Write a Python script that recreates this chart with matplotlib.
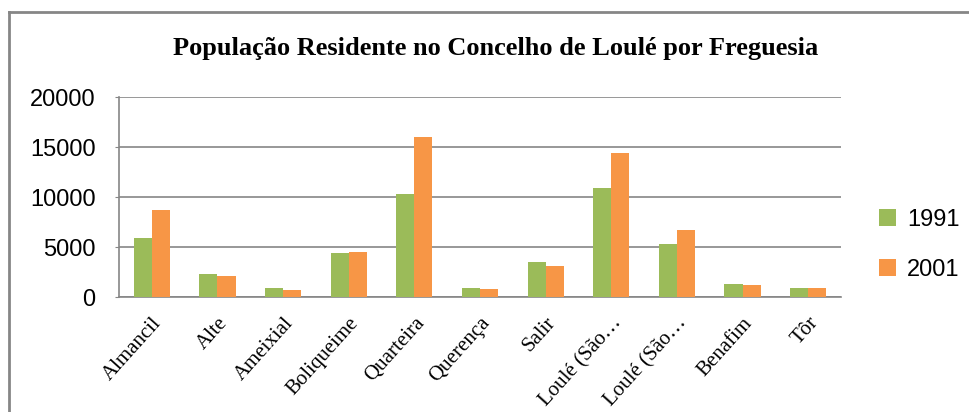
import numpy as np
import matplotlib.pyplot as plt
from matplotlib.lines import Line2D


#################### Data

freguesias = ['Almancil', 'Alte', 'Ameixial', 'Boliqueime', 'Quarteira', 'Querença',
              'Salir', 'Loulé (São…', 'Loulé (São…', 'Benafim', 'Tôr']
pop_1991 = [5930, 2330, 930, 4430, 10330, 930, 3530, 10930, 5330, 1330, 930]
pop_2001 = [8730, 2130, 730, 4530, 16030, 830, 3130, 14430, 6730, 1230, 930]
series_labels = ['1991', '2001']
y_ticks = [0, 5000, 10000, 15000, 20000]


#################### Style

color_1991 = '#9BBB59'   # green
color_2001 = '#F79646'   # orange
color_grid = '#868686'   # gray
sans = ['Liberation Sans', 'DejaVu Sans']
serif = ['Liberation Serif', 'DejaVu Serif']


#################### Plot

fig = plt.figure(figsize=(9.7, 4.12), dpi=100)
ax = fig.add_axes((119/970, 115/412, 722/970, 200/412))

x = np.arange(len(freguesias))
w = 0.275
ax.bar(x - w/2, pop_1991, width=w, color=color_1991, label=series_labels[0], zorder=3)
ax.bar(x + w/2, pop_2001, width=w, color=color_2001, label=series_labels[1], zorder=3)

ax.set_xlim(-0.5, len(freguesias) - 0.5)
ax.set_ylim(0, 20000)
ax.set_yticks(y_ticks)
ax.set_yticklabels([str(v) for v in y_ticks], family=sans, fontsize=17)
ax.set_xticks(x)
ax.set_xticklabels(freguesias, family=serif, fontsize=15, rotation=48,
                   ha='right', va='top', rotation_mode='anchor')

ax.grid(axis='y', color=color_grid, linewidth=1.2, zorder=0)
for s in ['top', 'right']:
    ax.spines[s].set_visible(False)
for s in ['left', 'bottom']:
    ax.spines[s].set_color(color_grid)
    ax.spines[s].set_linewidth(1.2)
ax.tick_params(axis='y', length=3, color=color_grid, pad=14)
ax.tick_params(axis='x', length=0, pad=12)

# title
fig.text(0.511, 0.883, 'População Residente no Concelho de Loulé por Freguesia',
         family=serif, fontsize=19, fontweight='bold', ha='center', va='center')

# legend
fig.legend(loc='center left', bbox_to_anchor=(0.896, 0.406), frameon=False,
           prop={'family': sans, 'size': 17}, handlelength=0.75, handleheight=0.75,
           handletextpad=0.45, labelspacing=1.2, borderaxespad=0)

# outer border
fig.add_artist(Line2D([9.5/970, 9.5/970], [0, 1 - 11.5/412], color=color_grid, linewidth=2,
                      transform=fig.transFigure))
fig.add_artist(Line2D([9.5/970, 1], [1 - 11.5/412, 1 - 11.5/412], color=color_grid, linewidth=2,
                      transform=fig.transFigure))

plt.savefig('out.png', dpi=100)
